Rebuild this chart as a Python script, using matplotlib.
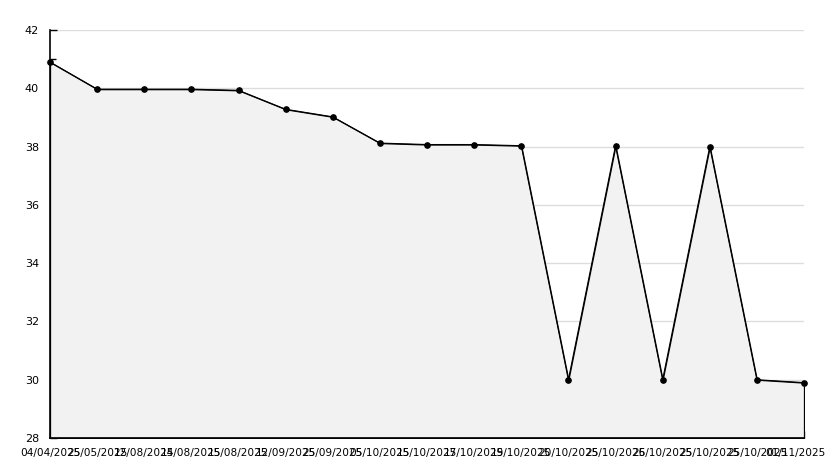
import numpy as np
import matplotlib.pyplot as plt
import matplotlib.transforms as mtransforms
from matplotlib.ticker import MultipleLocator

# Data
dates = ["04/04/2025", "25/05/2025", "12/08/2025", "14/08/2025", "15/08/2025",
         "12/09/2025", "25/09/2025", "05/10/2025", "15/10/2025", "17/10/2025",
         "19/10/2025", "20/10/2025", "25/10/2025", "26/10/2025", "25/10/2025",
         "25/10/2025", "01/11/2025"]
values = [40.9, 39.97, 39.97, 39.97, 39.93, 39.28, 39.02, 38.12, 38.07, 38.07,
          38.03, 30.0, 38.03, 30.0, 38.0, 30.0, 29.9]

x = np.arange(len(values))

fig = plt.figure(figsize=(8.34, 4.68), dpi=100)
ax = fig.add_axes([50 / 834, 30 / 468, 754 / 834, 408 / 468])

ax.fill_between(x, values, 28, facecolor="#f2f2f2", edgecolor="black", linewidth=0.9, zorder=1)
ax.plot(x, values, color="black", linewidth=0.8, marker="o", markersize=3.8,
        zorder=3, clip_on=False)

ax.set_xlim(0, len(values) - 1)
ax.set_ylim(28, 42)
ax.yaxis.set_major_locator(MultipleLocator(2))
ax.yaxis.set_minor_locator(MultipleLocator(1))
ax.set_xticks(x)
ax.set_xticklabels(dates)

ax.grid(axis="y", which="major", color="#dddddd", linewidth=1, zorder=0)
ax.set_axisbelow(True)

for side in ["top", "right"]:
    ax.spines[side].set_visible(False)
for side in ["left", "bottom"]:
    ax.spines[side].set_linewidth(1.2)

ax.tick_params(axis="both", which="major", direction="in", length=5, width=1, labelsize=7.6)
ax.tick_params(axis="y", which="major", labelsize=8, pad=8)
ax.tick_params(axis="y", which="minor", direction="in", length=4, width=1)
ax.tick_params(axis="x", pad=7)

# last label sits a little inside the figure edge, as in the reference
last = ax.get_xticklabels()[-1]
last.set_horizontalalignment("right")
last.set_transform(last.get_transform() + mtransforms.ScaledTranslation(0.21, 0, fig.dpi_scale_trans))

fig.savefig("out.png", dpi=100)
